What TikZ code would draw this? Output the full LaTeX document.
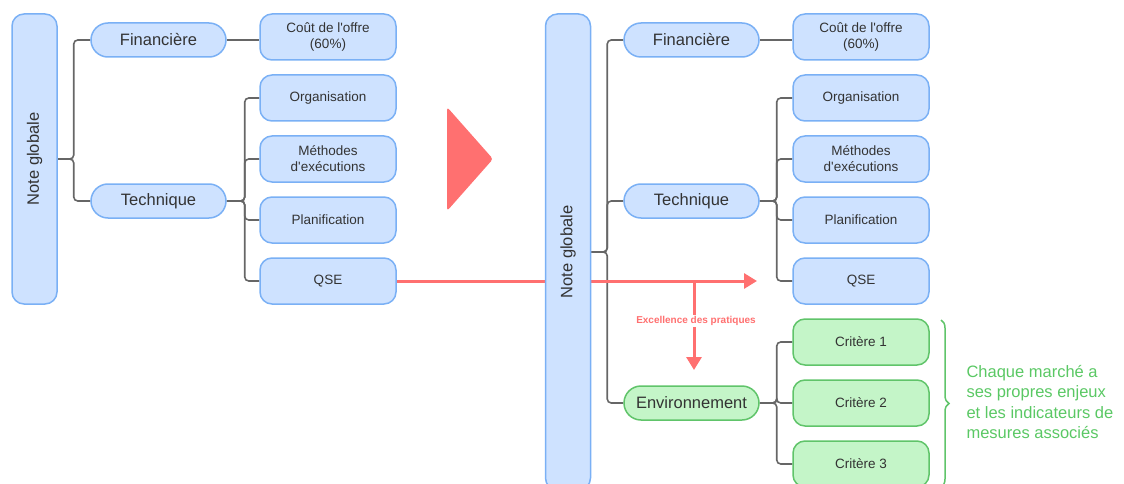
\documentclass[tikz,border=0pt]{standalone}
\usepackage{fontspec}
\setmainfont{Liberation Sans}
\usetikzlibrary{arrows.meta,decorations.pathreplacing}
\definecolor{bleuf}{RGB}{206,226,255}
\definecolor{bleub}{RGB}{122,176,245}
\definecolor{vertf}{RGB}{196,245,200}
\definecolor{vertb}{RGB}{96,196,106}
\definecolor{vertt}{RGB}{90,200,100}
\definecolor{rouge}{RGB}{255,112,112}
\definecolor{gris}{RGB}{102,102,102}
\definecolor{texte}{RGB}{51,51,51}
\pgfdeclarelayer{fond}
\pgfsetlayers{fond,main}
\begin{document}
\begin{tikzpicture}[x=1pt,y=-1pt,
    boite/.style={draw=bleub,fill=bleuf,line width=1.5pt,text=texte},
    pill/.style={boite,rounded corners=17pt,minimum width=135pt,minimum height=34pt,font=\fontsize{16.5}{19}\selectfont},
    feuille/.style={boite,rounded corners=12pt,minimum width=136pt,minimum height=46pt,align=center,font=\fontsize{13.5}{16}\selectfont},
    racine/.style={boite,rounded corners=12pt,rotate=90,minimum height=45pt,font=\fontsize{16.5}{19}\selectfont},
    env/.style={draw=vertb,fill=vertf},
    lien/.style={draw=gris,line width=1.6pt,rounded corners=4pt},
    flecheR/.style={draw=rouge,line width=3pt,-{Triangle[length=13pt,width=15pt]}}]
    \useasboundingbox (0,0) rectangle (1124,484);
    \node[racine,minimum width=290pt] (ngA) at (34.5,159) {Note globale};
    \node[pill] (finA) at (158.5,40) {Financière};
    \node[pill] (techA) at (158.5,201) {Technique};
    \node[feuille] (coutA) at (328,37) {Coût de l\textquotesingle offre\\(60\%)};
    \node[feuille] (orgA) at (328,98) {Organisation};
    \node[feuille] (methA) at (328,159) {Méthodes\\d\textquotesingle exécutions};
    \node[feuille] (planA) at (328,220) {Planification};
    \node[feuille] (qseA) at (328,281) {QSE};
    \fill[rouge,rounded corners=3pt] (447,107) -- (493,159) -- (447,211) -- cycle;
    \node[racine,minimum width=476pt] (ngB) at (568,252) {Note globale};
    \node[pill] (finB) at (691.5,40) {Financière};
    \node[pill] (techB) at (691.5,201) {Technique};
    \node[pill,env] (envB) at (691.5,403) {Environnement};
    \node[feuille] (coutB) at (861,37) {Coût de l\textquotesingle offre\\(60\%)};
    \node[feuille] (orgB) at (861,98) {Organisation};
    \node[feuille] (methB) at (861,159) {Méthodes\\d\textquotesingle exécutions};
    \node[feuille] (planB) at (861,220) {Planification};
    \node[feuille] (qseB) at (861,281) {QSE};
    \node[feuille,env] (crit1) at (861,342) {Critère 1};
    \node[feuille,env] (crit2) at (861,403) {Critère 2};
    \node[feuille,env] (crit3) at (861,464) {Critère 3};
    \coordinate (fleche) at (757,281);
    \coordinate (bifurc) at (694,281);
    \coordinate (bas) at (694,370);
    \node[fill=white,inner sep=1pt,text=rouge,font=\fontsize{10}{12}\selectfont\bfseries] (excel) at (696,321) {Excellence des pratiques};
    \begin{pgfonlayer}{fond}
    \draw[lien] (ngA.south) -- ++(16,0) |- (finA.west);
    \draw[lien] (ngA.south) -- ++(16,0) |- (techA.west);
    \draw[lien] (finA.east) -- (finA.east -| coutA.west);
    \foreach \f in {orgA,methA,planA,qseA}
        \draw[lien] (techA.east) -- ++(18,0) |- (\f.west);
    \foreach \f in {finB,techB,envB}
        \draw[lien] (ngB.south) -- ++(16,0) |- (\f.west);
    \draw[lien] (finB.east) -- (finB.east -| coutB.west);
    \foreach \f in {orgB,methB,planB,qseB}
        \draw[lien] (techB.east) -- ++(17,0) |- (\f.west);
    \foreach \f in {crit1,crit2,crit3}
        \draw[lien] (envB.east) -- ++(17,0) |- (\f.west);
    \draw[flecheR] (qseA.east) -- (fleche);
    \draw[flecheR] (bifurc) -- (bas);
    \end{pgfonlayer}
    \draw[vertb,line width=1.5pt,decorate,decoration={brace,amplitude=8pt}] (941,320) -- (941,487);
    \node[anchor=west,align=left,text=vertt,font=\fontsize{16.5}{20.5}\selectfont] (remarque) at (963,402) {Chaque marché a\\ses propres enjeux\\et les indicateurs de\\mesures associés};
\end{tikzpicture}
\end{document}
